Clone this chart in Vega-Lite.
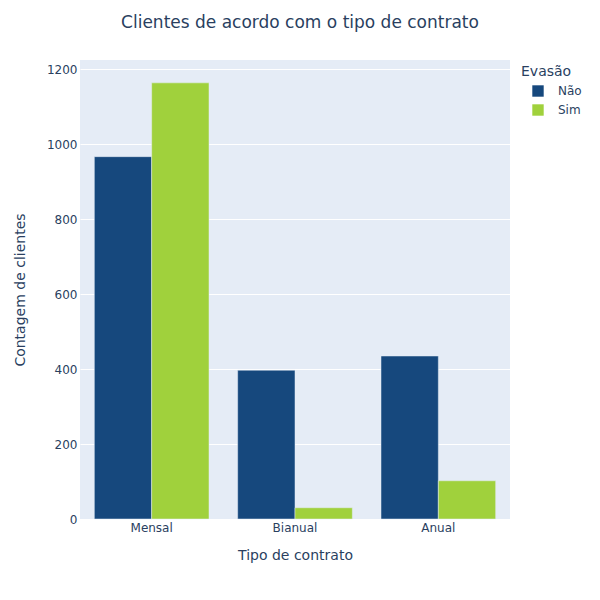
{
  "$schema": "https://vega.github.io/schema/vega-lite/v6.json",
  "autosize": "none",
  "width": 430,
  "height": 459,
  "padding": {"left": 80, "top": 60, "right": 90, "bottom": 81},
  "background": "white",
  "config": {
    "font": "DejaVu Sans",
    "view": {"fill": "#e5ecf6", "stroke": null},
    "axis": {"labelColor": "#2a3f5f", "titleColor": "#2a3f5f", "labelFontSize": 12, "titleFontSize": 14, "titleFontWeight": "normal", "ticks": false, "domain": false}
  },
  "title": {"text": "Clientes de acordo com o tipo de contrato", "fontSize": 17, "fontWeight": "normal", "color": "#2a3f5f", "anchor": "middle", "dx": 5, "offset": 28},
  "data": {"values": [
    {"contrato": "Mensal", "evasao": "Não", "n": 967},
    {"contrato": "Mensal", "evasao": "Sim", "n": 1164},
    {"contrato": "Bianual", "evasao": "Não", "n": 397},
    {"contrato": "Bianual", "evasao": "Sim", "n": 30},
    {"contrato": "Anual", "evasao": "Não", "n": 435},
    {"contrato": "Anual", "evasao": "Sim", "n": 102}
  ]},
  "mark": {"type": "bar", "stroke": "#e5ecf6", "strokeWidth": 0.5},
  "encoding": {
    "x": {"field": "contrato", "type": "nominal", "sort": ["Mensal", "Bianual", "Anual"], "title": "Tipo de contrato",
      "scale": {"paddingInner": 0.2, "paddingOuter": 0.1},
      "axis": {"labelAngle": 0, "labelPadding": 3, "titlePadding": 15, "grid": false}},
    "xOffset": {"field": "evasao", "type": "nominal", "scale": {"paddingInner": 0, "paddingOuter": 0}},
    "y": {"field": "n", "type": "quantitative", "title": "Contagem de clientes",
      "scale": {"domain": [0, 1225], "nice": false},
      "axis": {"values": [0, 200, 400, 600, 800, 1000, 1200], "format": "d", "gridColor": "white", "gridWidth": 1, "labelPadding": 3, "titlePadding": 19}},
    "color": {"field": "evasao", "type": "nominal", "title": "Evasão",
      "scale": {"domain": ["Não", "Sim"], "range": ["#16487d", "#a0d13c"]},
      "legend": {"orient": "none", "legendX": 441, "legendY": 5, "symbolType": "square", "symbolSize": 130, "symbolStrokeWidth": 0, "symbolOffset": 11, "titleFontSize": 14, "titleFontWeight": "normal", "titleColor": "#2a3f5f", "labelColor": "#2a3f5f", "labelFontSize": 12, "labelOffset": 14, "rowPadding": 7, "titlePadding": 6, "padding": 0}}
  }
}
